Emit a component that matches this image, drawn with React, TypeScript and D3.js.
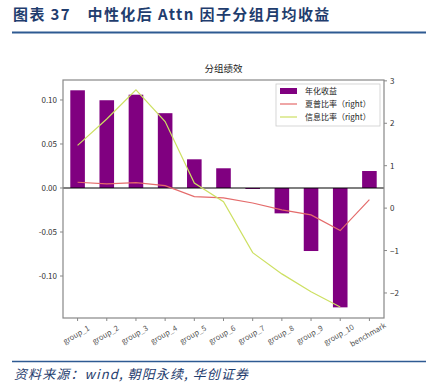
import React from "react";
import * as d3 from "d3";

const categories = ["group_1","group_2","group_3","group_4","group_5","group_6","group_7","group_8","group_9","group_10","benchmark"];
const annualReturn = [0.111,0.0997,0.106,0.085,0.0326,0.0224,-0.001,-0.0288,-0.0716,-0.1356,0.0193];
const sharpe = [0.61,0.57,0.60,0.53,0.27,0.24,0.12,-0.04,-0.16,-0.53,0.2];
const infoRatio: (number|null)[] = [1.48,2.1,2.79,2.04,0.59,0.15,-1.05,-1.55,-1.97,-2.33,null];
const leftTicks = [-0.10,-0.05,0.00,0.05,0.10];
const rightTicks = [-2,-1,0,1,2,3];

const W = 431, H = 389;
const L = 63, R = 384, T = 80, B = 318;
const CJK = "'Noto Sans CJK SC', 'Noto Sans', sans-serif";

export default function App() {
  const x = d3.scaleBand<string>().domain(categories).range([L, R]).padding(0);
  const yL = d3.scaleLinear().domain([-0.1477, 0.1227]).range([B, T]);
  const yR = d3.scaleLinear().domain([-2.59, 3.02]).range([B, T]);
  const bw = x.bandwidth() * 0.5;
  const cx = (c: string) => (x(c) as number) + x.bandwidth() / 2;
  const lineS = d3.line<number>().x((_, i) => cx(categories[i])).y(d => yR(d));
  const infoPts = infoRatio.map((v, i) => ({ v, c: categories[i] })).filter(d => d.v !== null) as { v: number; c: string }[];
  const lineI = d3.line<{ v: number; c: string }>().x(d => cx(d.c)).y(d => yR(d.v));
  const axisCol = "#888";
  const textCol = "#333";
  const headerCol = "#1f3d6e";

  return (
    <svg width={W} height={H} style={{ position: "absolute", left: 0, top: 0, background: "#fff" }}>
      <rect x={0} y={0} width={W} height={H} fill="#fff" />
      <text x={13} y={20} fontFamily={CJK} fontWeight="bold" fontSize={15} letterSpacing={1.4} fill={headerCol}>图表 37　中性化后 Attn 因子分组月均收益</text>
      <line x1={12} x2={426} y1={32.5} y2={32.5} stroke="#2e5a92" strokeWidth={2} />

      <text x={(L + R) / 2} y={72} textAnchor="middle" fontFamily={CJK} fontSize={9.5} fill="#222">分组绩效</text>

      {categories.map((c, i) => {
        const v = annualReturn[i];
        const y0 = yL(0), y1 = yL(v);
        return <rect key={c} x={cx(c) - bw / 2} width={bw} y={Math.min(y0, y1)} height={Math.max(Math.abs(y1 - y0), 1)} fill="#800080" />;
      })}
      <line x1={L} x2={R} y1={yL(0)} y2={yL(0)} stroke="#000" strokeWidth={1.2} />
      <path d={lineS(sharpe) || ""} fill="none" stroke="#e46b6b" strokeWidth={1.2} />
      <path d={lineI(infoPts) || ""} fill="none" stroke="#cde062" strokeWidth={1.2} />

      <rect x={L} y={T} width={R - L} height={B - T} fill="none" stroke={axisCol} strokeWidth={1.2} />

      {leftTicks.map(t => (
        <g key={"l" + t}>
          <line x1={L - 3} x2={L} y1={yL(t)} y2={yL(t)} stroke={axisCol} />
          <text x={L - 6} y={yL(t) + 3} textAnchor="end" fontFamily={CJK} fontSize={8} fill={textCol}>{d3.format(".2f")(t).replace("−", "-")}</text>
        </g>
      ))}
      {rightTicks.map(t => (
        <g key={"r" + t}>
          <line x1={R} x2={R + 3} y1={yR(t)} y2={yR(t)} stroke={axisCol} />
          <text x={R + 6} y={yR(t) + 3} textAnchor="start" fontFamily={CJK} fontSize={8} fill={textCol}>{t < 0 ? "−" + Math.abs(t) : t}</text>
        </g>
      ))}
      {categories.map(c => (
        <g key={"x" + c}>
          <line x1={cx(c)} x2={cx(c)} y1={B} y2={B + 3} stroke={axisCol} />
          <text transform={`translate(${cx(c)},${B + 19}) rotate(-30)`} textAnchor="middle" fontFamily={CJK} fontSize={7.5} fill="#555">{c}</text>
        </g>
      ))}

      <g>
        <rect x={276} y={84} width={104} height={42} fill="#fff" stroke="#ccc" strokeWidth={0.8} />
        <rect x={280} y={88} width={17} height={6} fill="#800080" />
        <text x={305} y={94} fontFamily={CJK} fontSize={8} fill="#222">年化收益</text>
        <line x1={280} x2={297} y1={104} y2={104} stroke="#e46b6b" strokeWidth={1.2} />
        <text x={305} y={107} fontFamily={CJK} fontSize={8} fill="#222">夏普比率（right）</text>
        <line x1={280} x2={297} y1={117} y2={117} stroke="#cde062" strokeWidth={1.2} />
        <text x={305} y={120} fontFamily={CJK} fontSize={8} fill="#222">信息比率（right）</text>
      </g>

      <line x1={12} x2={426} y1={361.5} y2={361.5} stroke="#2e5a92" strokeWidth={1.5} />
      <text x={14} y={379} fontFamily={CJK} fontStyle="italic" fontSize={13} letterSpacing={1.1} fill={headerCol}>资料来源：wind, 朝阳永续, 华创证券</text>
    </svg>
  );
}
